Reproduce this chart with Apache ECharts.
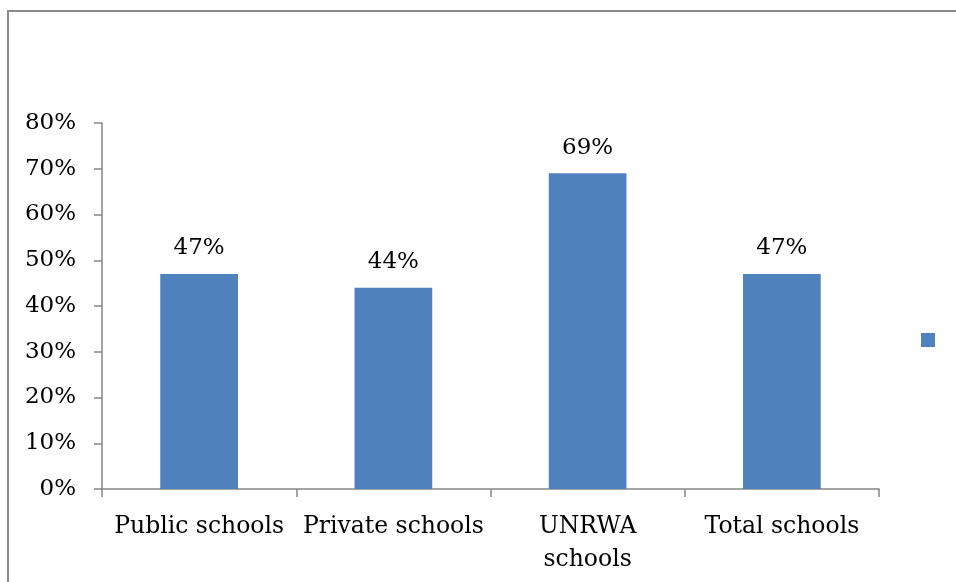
<!DOCTYPE html>
<html>
<head>
<meta charset="utf-8">
<script src="https://cdn.jsdelivr.net/npm/echarts@6/dist/echarts.min.js"></script>
<style>
html,body{margin:0;padding:0;background:#fff;}
#c{width:956px;height:582px;}
</style>
</head>
<body>
<div id="c"></div>
<script>
const categories = ['Public schools', 'Private schools', 'UNRWA schools', 'Total schools'];
const values = [47, 44, 69, 47];
const yTicks = [0, 10, 20, 30, 40, 50, 60, 70, 80];

const labelMap = {'UNRWA schools': 'UNRWA\nschools'};
const FONT = 'DejaVu Serif';
const chart = echarts.init(document.getElementById('c'));
chart.setOption({
  backgroundColor: '#fff',
  animation: false,
  graphic: [{
    type: 'rect',
    shape: {x: 8, y: 11, width: 1000, height: 700},
    style: {fill: 'none', stroke: '#8c8c8c', lineWidth: 2},
    silent: true
  }],
  grid: {left: 102, right: 77, top: 123, bottom: 93, containLabel: false},
  legend: {
    show: true,
    data: ['Series 1'],
    left: 916, top: 328,
    itemWidth: 14, itemHeight: 14, icon: 'rect',
    formatter: function(){ return ''; },
    textStyle: {fontSize: 1}
  },
  xAxis: {
    type: 'category',
    data: categories,
    axisLine: {lineStyle: {color: '#868686', width: 1.5}},
    axisTick: {show: true, length: 8, alignWithLabel: false, lineStyle: {color: '#868686', width: 1.5}},
    axisLabel: {
      color: '#000', fontFamily: FONT, fontSize: 23.5, margin: 21, lineHeight: 33,
      interval: 0,
      formatter: function(v){ return labelMap[v] || v; }
    }
  },
  yAxis: {
    type: 'value',
    min: 0, max: 80, interval: 10,
    splitLine: {show: false},
    axisLine: {show: true, lineStyle: {color: '#868686', width: 1.5}},
    axisTick: {show: true, length: 8, lineStyle: {color: '#868686', width: 1.5}},
    axisLabel: {
      color: '#000', fontFamily: FONT, fontSize: 23, margin: 26,
      formatter: function(v){ return yTicks.indexOf(v) >= 0 ? v + '%' : ''; }
    }
  },
  series: [{
    name: 'Series 1',
    type: 'bar',
    data: values,
    barCategoryGap: '60%',
    itemStyle: {color: '#4f81bd'},
    label: {
      show: true, position: 'top', distance: 14,
      color: '#000', fontFamily: FONT, fontSize: 23,
      formatter: function(p){ return p.value + '%'; }
    }
  }]
});
</script>
</body>
</html>
